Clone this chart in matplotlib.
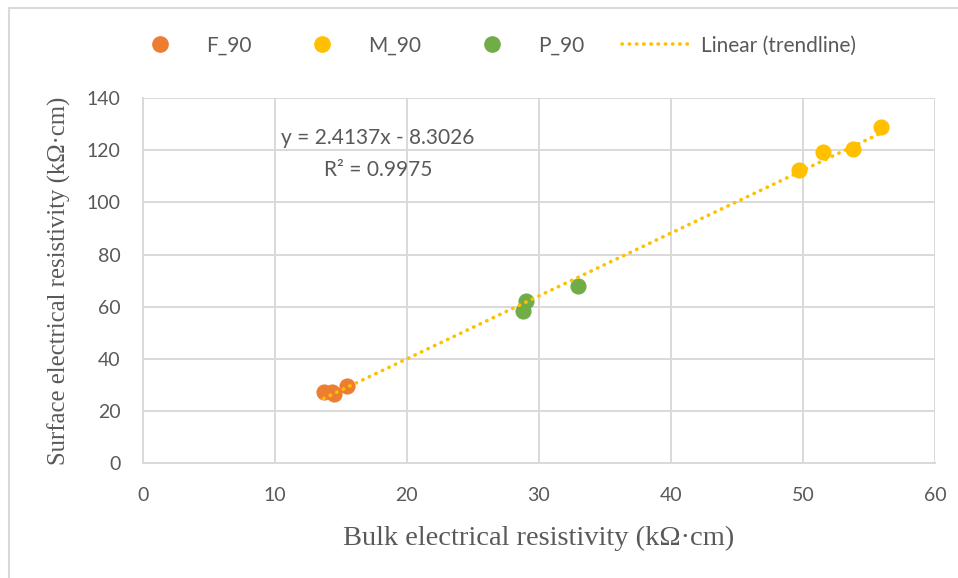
import numpy as np
import matplotlib.pyplot as plt
from matplotlib.lines import Line2D

# Data
f90_x = [13.7, 14.3, 14.5, 15.5]
f90_y = [27.2, 27.2, 26.5, 29.5]
m90_x = [49.7, 51.5, 53.8, 55.9]
m90_y = [112.5, 119.3, 120.6, 128.8]
p90_x = [28.8, 29.0, 33.0]
p90_y = [58.3, 62.1, 67.9]

slope, intercept = 2.4137, -8.3026

c_f = '#ED7D31'
c_m = '#FFC000'
c_p = '#70AD47'
txt = '#595959'
grid = '#D9D9D9'
dots = (0, (0.1, 1.9))

fig = plt.figure(figsize=(9.58, 5.78), dpi=100)
ax = fig.add_axes([0.149, 0.199, 0.827, 0.631])

# outer chart frame (only left and top edges show in the crop)
fig.add_artist(Line2D([8.5 / 958, 8.5 / 958, 1.0], [0.0, 1 - 7.5 / 578, 1 - 7.5 / 578],
                      transform=fig.transFigure, color='#D9D9D9', linewidth=1.5))

all_x = np.array(f90_x + m90_x + p90_x)
xs = np.array([all_x.min(), all_x.max()])
ax.plot(xs, slope * xs + intercept, linestyle=dots, color=c_m, linewidth=2.6,
        dash_capstyle='round', zorder=4)

ax.scatter(f90_x, f90_y, s=135, color=c_f, zorder=3, linewidths=0)
ax.scatter(m90_x, m90_y, s=135, color=c_m, zorder=3, linewidths=0)
ax.scatter(p90_x, p90_y, s=135, color=c_p, zorder=3, linewidths=0)

ax.set_xlim(0, 60)
ax.set_ylim(0, 140)
ax.set_xticks(range(0, 61, 10))
ax.set_yticks(range(0, 141, 20))
ax.grid(True, color=grid, linewidth=1.4)
ax.set_axisbelow(True)
for s in ['top', 'right']:
    ax.spines[s].set_visible(False)
ax.spines['left'].set_color(grid)
ax.spines['bottom'].set_color(grid)
ax.spines['left'].set_linewidth(1.4)
ax.spines['bottom'].set_linewidth(1.4)
ax.tick_params(length=0, labelsize=14, colors=txt)
ax.tick_params(axis='x', pad=17)
ax.tick_params(axis='y', pad=16)
for lab in ax.get_xticklabels() + ax.get_yticklabels():
    lab.set_family('Lato')

ax.set_xlabel('Bulk electrical resistivity (k\u03a9\u00b7cm)', family='Liberation Serif',
              fontsize=20.5, color=txt, labelpad=16)
ax.set_ylabel('Surface electrical resistivity (k\u03a9\u00b7cm)', family='Liberation Serif',
              fontsize=17.8, color=txt, labelpad=11)

ax.text(17.8, 124.7, 'y = 2.4137x - 8.3026', family='Lato', fontsize=15, color=txt,
        ha='center', va='center')
ax.text(17.8, 112.6, 'R\u00b2 = 0.9975', family='Lato', fontsize=15, color=txt,
        ha='center', va='center')

handles = [
    Line2D([], [], marker='o', linestyle='none', color=c_f, markersize=11),
    Line2D([], [], marker='o', linestyle='none', color=c_m, markersize=11),
    Line2D([], [], marker='o', linestyle='none', color=c_p, markersize=11),
    Line2D([], [], linestyle=dots, color=c_m, linewidth=2.6, dash_capstyle='round'),
]
labels = ['F_90', 'M_90', 'P_90', 'Linear (trendline)']
leg = fig.legend(handles, labels, loc='center', bbox_to_anchor=(0.513, 0.921), ncol=4,
                 frameon=False, prop={'family': 'Lato', 'size': 15}, columnspacing=1.8,
                 handlelength=3.2, handletextpad=0.6)
for t in leg.get_texts():
    t.set_color(txt)

fig.savefig('out.png', dpi=100)
